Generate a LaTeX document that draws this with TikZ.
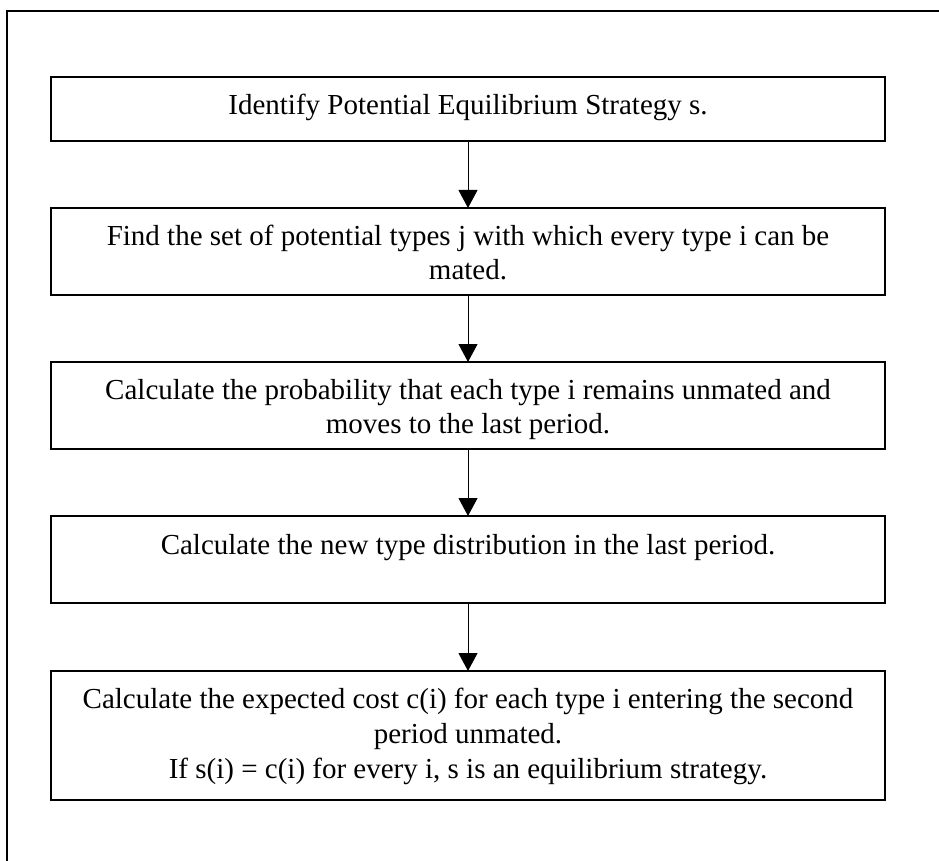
\documentclass[tikz,border=0pt]{standalone}
\usepackage{fontspec}
\setmainfont{Liberation Serif}
\usetikzlibrary{arrows.meta}
\begin{document}
\begin{tikzpicture}[x=1pt,y=-1pt,
  stepbox/.style={draw, line width=1.5pt, minimum width=834pt, inner sep=0pt, outer sep=0pt},
  steptext/.style={anchor=base, align=center, inner sep=0pt, font=\fontsize{29}{34}\selectfont},
  flowarrow/.style={line width=1pt, -{Triangle[width=19pt,length=18pt]}}]
\useasboundingbox (0,0) rectangle (939,861);
% outer frame (cropped: only top and left visible)
\draw[line width=1.5pt] (7,861) -- (7,11) -- (939,11);
% boxes
\node[stepbox, minimum height=64pt] (b1) at (468,109) {};
\node[stepbox, minimum height=87pt] (b2) at (468,251.5) {};
\node[stepbox, minimum height=87pt] (b3) at (468,405.5) {};
\node[stepbox, minimum height=87pt] (b4) at (468,559.5) {};
\node[stepbox, minimum height=129pt] (b5) at (468,735.5) {};
% texts (base anchor = baseline of last line)
\node[steptext] (t1) at (468,115) {Identify Potential Equilibrium Strategy s.};
\node[steptext] (t2) at (468,279) {Find the set of potential types j with which every type i can be\\mated.};
\node[steptext] (t3) at (468,433) {Calculate the probability that each type i remains unmated and\\moves to the last period.};
\node[steptext] (t4) at (468,554) {Calculate the new type distribution in the last period.};
\node[steptext, font=\fontsize{29}{35}\selectfont] (t5) at (468,778) {Calculate the expected cost c(i) for each type i entering the second\\period unmated.\\If s(i) = c(i) for every i, s is an equilibrium strategy.};
% arrows
\draw[flowarrow] (b1.south) -- (b2.north);
\draw[flowarrow] (b2.south) -- (b3.north);
\draw[flowarrow] (b3.south) -- (b4.north);
\draw[flowarrow] (b4.south) -- (b5.north);
\end{tikzpicture}
\end{document}
